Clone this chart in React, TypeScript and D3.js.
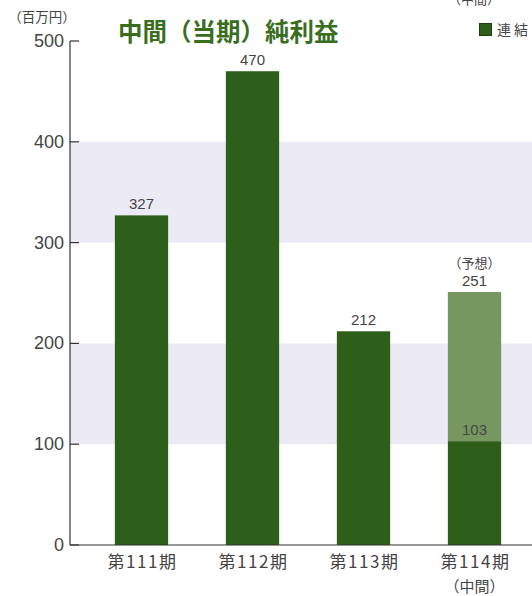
import * as d3 from "d3";

const categories = ["第111期", "第112期", "第113期", "第114期"];
const subLabels = ["", "", "", "（中間）"];
const actual = [327, 470, 212, 103];
const forecast = [null, null, null, 251];
const yTicks = [0, 100, 200, 300, 400, 500];
const bands = [[100, 200], [300, 400]];

const W = 532, H = 596;
const FONT = "'Noto Sans CJK JP', 'Noto Sans', sans-serif";
const NUM = "'Liberation Sans', 'Noto Sans', sans-serif";
const TXT = "#444";

export default function App() {
  const y = d3.scaleLinear().domain([0, 500]).range([545, 41]);
  const x = d3.scaleBand().domain(categories).range([86, 530]).paddingInner(0.52).paddingOuter(0.26);
  const axisX = 70;

  return (
    <svg width={W} height={H} style={{ position: "absolute", left: 0, top: 0, background: "#fff" }}>
      {bands.map(([a, b], i) => (
        <rect key={i} x={axisX} y={y(b)} width={W - axisX} height={y(a) - y(b)} fill="#ecebf5" />
      ))}
      {categories.map((c, i) => {
        const bx = x(c)!;
        const bw = x.bandwidth();
        const f = forecast[i];
        return (
          <g key={c}>
            {f != null && (
              <rect x={bx} y={y(f)} width={bw} height={y(actual[i]) - y(f)} fill="#76975f" />
            )}
            <rect x={bx} y={y(actual[i])} width={bw} height={y(0) - y(actual[i])} fill="#2d5e1a" />
            <text x={bx + bw / 2} y={y(actual[i]) - 6} textAnchor="middle" fontSize={15} fill={TXT} fontFamily={NUM}>{actual[i]}</text>
            {f != null && (
              <>
                <text x={bx + bw / 2} y={y(f) - 6} textAnchor="middle" fontSize={15} fill={TXT} fontFamily={NUM}>{f}</text>
                <text x={bx + bw / 2} y={y(f) - 24} textAnchor="middle" fontSize={13} fill={TXT} fontFamily={FONT}>（予想）</text>
              </>
            )}
            <text x={bx + bw / 2 + 1} y={568} textAnchor="middle" fontSize={17} fill={TXT} fontFamily={FONT} letterSpacing={1.5}>{c}</text>
            {subLabels[i] && (
              <text x={bx + bw / 2} y={592} textAnchor="middle" fontSize={15} fill={TXT} fontFamily={FONT}>{subLabels[i]}</text>
            )}
          </g>
        );
      })}
      <line x1={axisX} x2={axisX} y1={y(500)} y2={y(0)} stroke="#333" strokeWidth={1.2} />
      <line x1={axisX} x2={W} y1={y(0)} y2={y(0)} stroke="#333" strokeWidth={1.2} />
      {yTicks.map((t) => (
        <g key={t}>
          <line x1={axisX} x2={axisX + 9} y1={y(t)} y2={y(t)} stroke="#333" strokeWidth={1.2} />
          <text x={axisX - 6} y={y(t) + 6} textAnchor="end" fontSize={18} fill={TXT} fontFamily={NUM}>{t}</text>
        </g>
      ))}
      <text x={42} y={22} textAnchor="middle" fontSize={13.5} fill={TXT} fontFamily={FONT}>（百万円）</text>
      <text x={118} y={41} fontSize={24.5} fontWeight="bold" fill="#3a6e1f" fontFamily={FONT}>中間（当期）純利益</text>
      <text x={474} y={4} textAnchor="middle" fontSize={13} fill={TXT} fontFamily={FONT}>（中間）</text>
      <rect x={479.5} y={23.5} width={12} height={12} fill="#2d5e1a" stroke="#1e3d12" />
      <text x={497} y={35} fontSize={14} fill={TXT} fontFamily={FONT} letterSpacing={3}>連結</text>
    </svg>
  );
}
